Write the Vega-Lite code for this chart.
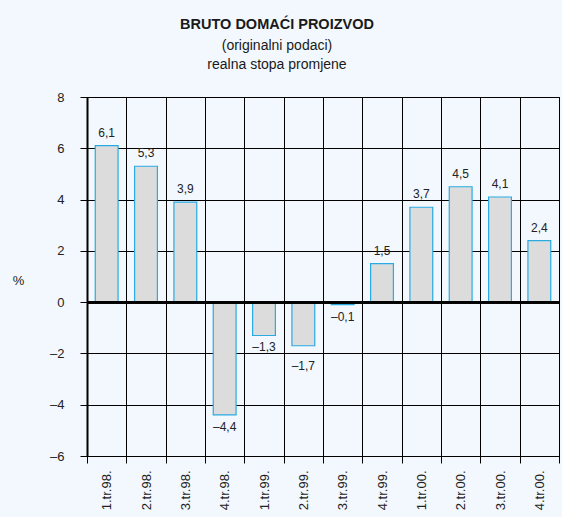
{
  "$schema": "https://vega.github.io/schema/vega-lite/v6.json",
  "autosize": {"type": "none"},
  "padding": {"left": 87, "top": 97, "right": 3, "bottom": 61},
  "width": 472,
  "height": 359,
  "background": "#f2f8fd",
  "config": {
    "font": "Liberation Sans",
    "view": {"stroke": "#000000", "strokeWidth": 1},
    "locale": {"number": {"decimal": ",", "thousands": ".", "grouping": [3], "currency": ["", ""], "minus": "–"}}
  },
  "title": {
    "text": "BRUTO DOMAĆI PROIZVOD",
    "subtitle": ["(originalni podaci)", "realna stopa promjene"],
    "anchor": "middle",
    "dx": -46,
    "offset": 18,
    "fontSize": 14.5,
    "fontWeight": "bold",
    "color": "#1a1a1a",
    "subtitleFontSize": 14,
    "subtitleColor": "#1a1a1a",
    "subtitlePadding": 7,
    "subtitleLineHeight": 19
  },
  "data": {
    "values": [
      {"q": "1.tr.98.", "v": 6.1},
      {"q": "2.tr.98.", "v": 5.3},
      {"q": "3.tr.98.", "v": 3.9},
      {"q": "4.tr.98.", "v": -4.4},
      {"q": "1.tr.99.", "v": -1.3},
      {"q": "2.tr.99.", "v": -1.7},
      {"q": "3.tr.99.", "v": -0.1},
      {"q": "4.tr.99.", "v": 1.5},
      {"q": "1.tr.00.", "v": 3.7},
      {"q": "2.tr.00.", "v": 4.5},
      {"q": "3.tr.00.", "v": 4.1},
      {"q": "4.tr.00.", "v": 2.4}
    ]
  },
  "encoding": {
    "x": {
      "field": "q", "type": "nominal", "sort": null,
      "scale": {"paddingInner": 0, "paddingOuter": 0},
      "axis": {
        "title": null, "tickBand": "extent", "labelAngle": 270,
        "labelFontSize": 13, "labelColor": "#222222", "labelPadding": 7,
        "tickSize": 7, "tickColor": "#000000", "domainColor": "#000000",
        "grid": true, "gridColor": "#000000", "gridOpacity": 1, "gridWidth": 1
      }
    },
    "y": {
      "field": "v", "type": "quantitative",
      "scale": {"domain": [-6, 8], "nice": false},
      "axis": {
        "title": "%", "titleAngle": 0, "titleX": -69, "titleY": 183,
        "titleAlign": "center", "titleBaseline": "middle", "titleFontSize": 13,
        "titleFontWeight": "normal", "titleColor": "#222222",
        "values": [-6, -4, -2, 0, 2, 4, 6, 8], "format": "d",
        "labelFontSize": 13, "labelColor": "#222222", "labelPadding": 16,
        "tickSize": 7, "tickColor": "#000000",
        "domainColor": "#000000", "domainWidth": 2,
        "grid": true, "gridColor": "#000000", "gridOpacity": 1, "gridWidth": 1
      }
    }
  },
  "layer": [
    {
      "mark": {"type": "bar", "width": {"band": 0.58}, "fill": "#dcdcdc", "stroke": "#29abe2", "strokeWidth": 1.2}
    },
    {
      "mark": {"type": "rule", "color": "#000000", "strokeWidth": 2},
      "encoding": {"y": {"datum": 0}, "x": {"value": 0}, "x2": {"value": 472}}
    },
    {
      "transform": [{"filter": "datum.v >= 0"}],
      "mark": {"type": "text", "fontSize": 12, "color": "#222222", "baseline": "alphabetic", "dy": -9},
      "encoding": {"text": {"field": "v", "type": "quantitative", "format": ".1f"}}
    },
    {
      "transform": [{"filter": "datum.v < 0 && datum.q != '2.tr.99.'"}],
      "mark": {"type": "text", "fontSize": 12, "color": "#222222", "baseline": "alphabetic", "dy": 16},
      "encoding": {"text": {"field": "v", "type": "quantitative", "format": ".1f"}}
    },
    {
      "transform": [{"filter": "datum.q == '2.tr.99.'"}],
      "mark": {"type": "text", "fontSize": 12, "color": "#222222", "baseline": "alphabetic", "dy": 24},
      "encoding": {"text": {"field": "v", "type": "quantitative", "format": ".1f"}}
    }
  ]
}
